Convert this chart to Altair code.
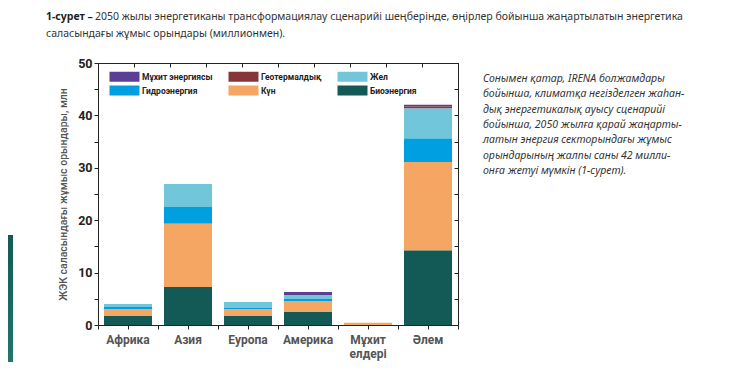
import altair as alt
import pandas as pd

# ---------------- data ----------------
regions = ["Африка", "Азия", "Еуропа", "Америка", "Мұхит елдері", "Әлем"]
sources = ["Мұхит энергиясы", "Геотермалдық", "Жел", "Гидроэнергия", "Күн", "Биоэнергия"]
colors = ["#5b3f95", "#86353a", "#71c7d9", "#009fe0", "#f5a662", "#135955"]
stack_rank = [5, 4, 3, 2, 1, 0]  # bottom-up stacking order

ocean = [0, 0, 0, 0.57, 0, 0.32]
geothermal = [0, 0, 0, 0, 0, 0.38]
wind = [0.6, 4.4, 1.15, 0.77, 0, 5.73]
hydro = [0.35, 3.2, 0.19, 0.38, 0, 4.5]
solar = [1.35, 12.05, 1.33, 2.1, 0.45, 16.9]
bio = [1.72, 7.25, 1.72, 2.48, 0, 14.2]
series = [ocean, geothermal, wind, hydro, solar, bio]

y_ticks = list(range(0, 55, 5))
bottom_ticks = list(range(0, 13))
top_ticks = list(range(0, 11))

caption_bold = "1-сурет –"
caption_line1 = "2050 жылы энергетиканы трансформациялау сценарийі шеңберінде, өңірлер бойынша жаңартылатын энергетика"
caption_line2 = "саласындағы жұмыс орындары (миллионмен)."
paragraph = [
    "Сонымен қатар, IRENA болжамдары",
    "бойынша, климатқа негізделген жаһан-",
    "дық энергетикалық ауысу сценарийі",
    "бойынша, 2050 жылға қарай жаңарты-",
    "латын энергия секторындағы жұмыс",
    "орындарының жалпы саны 42 милли-",
    "онға жетуі мүмкін (1-сурет).",
]

rows = []
for src, rank, vals in zip(sources, stack_rank, series):
    for reg, v in zip(regions, vals):
        if v > 0:
            rows.append({"region": reg, "source": src, "rank": rank, "value": v})
df = pd.DataFrame(rows)

W, H = 360, 262
AX_FONT = "Roboto"

bars = alt.Chart(df).mark_bar().encode(
    x=alt.X(
        "region:N", sort=regions,
        scale=alt.Scale(paddingInner=0.2, paddingOuter=0.1),
        axis=alt.Axis(
            title=None, ticks=False, domain=True, domainColor="#222",
            labelAngle=0, labelFont=AX_FONT, labelFontWeight="bold",
            labelFontSize=12, labelColor="#555", labelPadding=9,
            labelLineHeight=14, labelBaseline="top",
            labelExpr="datum.value == 'Мұхит елдері' ? ['Мұхит', 'елдері'] : datum.label",
        ),
    ),
    y=alt.Y(
        "value:Q", stack="zero",
        scale=alt.Scale(domain=[0, 50], nice=False),
        axis=alt.Axis(
            title="ЖЭК саласындағы жұмыс орындары, млн",
            titleFont=AX_FONT, titleFontSize=10.5, titleFontWeight=500,
            titleColor="#555", titlePadding=9,
            values=y_ticks, grid=False, tickSize=4, tickColor="#222",
            domainColor="#222",
            labelExpr="datum.value % 10 == 0 ? datum.label : ''",
            labelFont=AX_FONT, labelFontWeight="bold", labelFontSize=12.5,
            labelColor="#222", labelPadding=2,
        ),
    ),
    color=alt.Color(
        "source:N",
        scale=alt.Scale(domain=sources, range=colors),
        legend=alt.Legend(
            title=None, orient="none", legendX=19, legendY=6, columns=3,
            direction="horizontal",
            symbolType="M-2,-0.667H2V0.667H-2Z", symbolSize=225,
            symbolStrokeWidth=0, symbolOpacity=1,
            labelFont=AX_FONT, labelFontWeight="bold", labelFontSize=8.5,
            labelColor="#222", labelOffset=10, columnPadding=15,
            rowPadding=1, padding=0,
        ),
    ),
    order=alt.Order("rank:Q", sort="ascending"),
)

ticks_bottom = alt.Chart(df).mark_point(opacity=0).encode(
    x=alt.X(
        "rank:Q",
        scale=alt.Scale(domain=[0, 12], nice=False, zero=False),
        axis=alt.Axis(
            orient="bottom", values=bottom_ticks, labels=False, domain=False,
            tickSize=4, tickColor="#222", title=None, grid=False,
        ),
    )
)

ticks_top = alt.Chart(df).mark_point(opacity=0).encode(
    x=alt.X(
        "rank:Q",
        scale=alt.Scale(domain=[0, 10], nice=False, zero=False),
        axis=alt.Axis(
            orient="bottom", offset=-H, values=top_ticks, labels=False,
            domain=True, domainColor="#222", tickSize=4, tickColor="#222",
            title=None, grid=False,
        ),
    )
)

ticks_right = alt.Chart(df).mark_point(opacity=0).encode(
    y=alt.Y(
        "value:Q",
        axis=alt.Axis(
            orient="left", offset=-W, values=y_ticks, labels=False,
            domain=True, domainColor="#222", tickSize=4, tickColor="#222",
            title=None, grid=False,
        ),
    )
)

one = alt.Data(values=[{}])

cap_b = alt.Chart(one).mark_text(
    text=caption_bold, align="left", baseline="middle",
    font="Noto Sans", fontSize=10.5, fontWeight="bold", color="#222",
).encode(x=alt.value(-52), y=alt.value(-46))

cap_1 = alt.Chart(one).mark_text(
    text=caption_line1, align="left", baseline="middle",
    font="Noto Sans", fontSize=10.5, color="#333",
).encode(x=alt.value(-3), y=alt.value(-46))

cap_2 = alt.Chart(one).mark_text(
    text=caption_line2, align="left", baseline="middle",
    font="Noto Sans", fontSize=10.5, color="#333",
).encode(x=alt.value(-52), y=alt.value(-29))

para = alt.Chart(one).mark_text(
    text=paragraph, align="left", baseline="top",
    font="Noto Sans", fontSize=10.5, fontStyle="italic", color="#333",
    lineHeight=15.3,
).encode(x=alt.value(385), y=alt.value(11))

deco = alt.Chart(one).mark_rect(
    color=alt.Gradient(
        gradient="linear", x1=0, x2=0, y1=0, y2=1,
        stops=[alt.GradientStop(color="#135a53", offset=0),
               alt.GradientStop(color="#237a6e", offset=1)],
    )
).encode(x=alt.value(-90), x2=alt.value(-85), y=alt.value(172), y2=alt.value(320))

chart = alt.layer(
    bars, ticks_bottom, ticks_top, ticks_right, cap_b, cap_1, cap_2, para, deco
).resolve_scale(x="independent").resolve_axis(x="independent", y="independent").properties(
    width=W, height=H,
    padding={"left": 90, "top": 55, "right": 278, "bottom": 37},
    autosize=alt.AutoSizeParams(type="none"),
).configure_view(stroke=None)

chart.save("out.html", embed_options={"renderer": "svg", "actions": False})
